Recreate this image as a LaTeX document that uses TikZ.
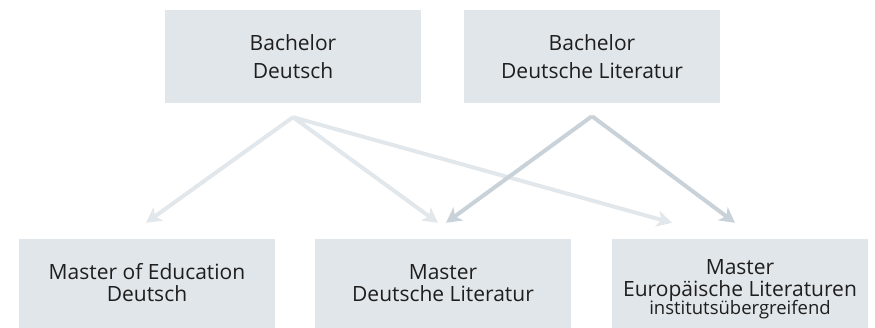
\documentclass[tikz,border=0pt]{standalone}
\usepackage{fontspec}
\setmainfont{Open Sans}
\usetikzlibrary{arrows.meta,positioning}
\definecolor{boxbg}{HTML}{E1E6EA}
\definecolor{arrlight}{HTML}{E2E7EB}
\definecolor{arrdark}{HTML}{C8D2D8}
\definecolor{inktext}{HTML}{1E1E1E}
\newcommand\progsmall{\fontsize{18.5}{18}\selectfont}

\begin{document}
\begin{tikzpicture}[x=1pt,y=-1pt,
  prog/.style={fill=boxbg,draw=none,minimum width=256pt,minimum height=93pt,
               align=center,inner sep=0pt,text=inktext,font=\fontsize{21}{28.5}\selectfont},
  master/.style={prog,minimum height=89pt},
  mtext/.style={font=\fontsize{21}{22}\selectfont,text=inktext,align=center,anchor=base}, % base = last line
  flow/.style={-{Stealth[length=15pt,width=16pt,inset=4pt]},line width=4pt}]

\useasboundingbox (0,0) rectangle (875,328);

% ===== Bachelor row =====
\node[prog] (bd) at (293,56.5) {Bachelor\\Deutsch};
\node[prog] (bdl) at (592,56.5) {Bachelor\\Deutsche Literatur};

% ===== Master row =====
\node[master] (med) at (147,283.5) {};
\node[master] (mdl) at (443,283.5) {};
\node[master] (mel) at (740,283.5) {};
\node[mtext] (medtxt) at (147,302) {Master of Education\\Deutsch};
\node[mtext] (mdltxt) at (443,302) {Master\\Deutsche Literatur};
\node[mtext] (meltxt) at (740,315)
     {Master\\Europäische Literaturen\\[-4pt]{\progsmall institutsübergreifend}};

% ===== start / end points of the arrows =====
\coordinate (bdout) at ([yshift=-14pt]bd.south);
\coordinate (bdlout) at ([yshift=-13pt]bdl.south);
\coordinate (medin) at ([xshift=-1pt,yshift=16pt]med.north);
\coordinate (mdlinl) at ([xshift=-5pt,yshift=16pt]mdl.north);
\coordinate (mdlinr) at ([xshift=3pt,yshift=16pt]mdl.north);
\coordinate (melinl) at ([xshift=-68pt,yshift=16pt]mel.north);
\coordinate (melinr) at ([xshift=-5pt,yshift=16pt]mel.north);

% ===== arrows =====
\draw[flow,arrlight] (bdout) -- (medin);
\draw[flow,arrlight] (bdout) -- (mdlinl);
\draw[flow,arrlight] (bdout) -- (melinl);
\draw[flow,arrdark] (bdlout) -- (mdlinr);
\draw[flow,arrdark] (bdlout) -- (melinr);

\end{tikzpicture}
\end{document}
